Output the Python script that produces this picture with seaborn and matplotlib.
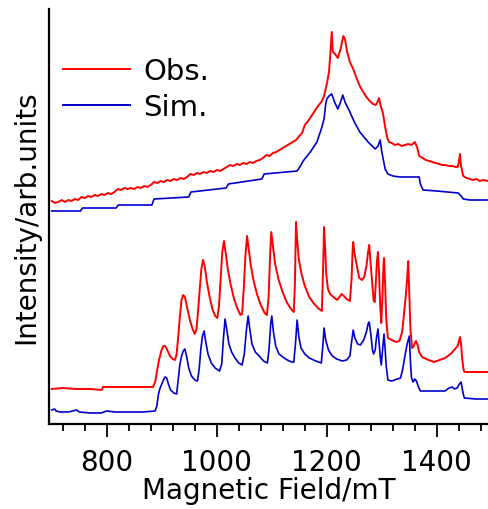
import matplotlib
matplotlib.use("Agg")
import matplotlib.pyplot as plt
import seaborn as sns
import pandas as pd
from matplotlib.ticker import MultipleLocator

# ---- data ----
obs_top_x = [700, 706, 712, 718, 724, 730, 736, 742, 748, 754, 760, 766, 772, 778, 784, 790, 796, 802,
             808, 814, 820, 826, 832, 838, 844, 850, 856, 862, 868, 874, 880, 886, 892, 898, 904, 910,
             916, 922, 928, 934, 940, 946, 952, 958, 964, 970, 976, 982, 988, 994, 1000, 1006, 1012,
             1018, 1024, 1030, 1036, 1042, 1048, 1054, 1060, 1066, 1072, 1078, 1084, 1090, 1096, 1102,
             1108, 1114, 1120, 1126, 1132, 1138, 1144, 1150, 1155, 1160, 1166, 1172, 1178, 1184, 1190,
             1195, 1200, 1204, 1207, 1209, 1211, 1215, 1220, 1225, 1230, 1233, 1237, 1242, 1248, 1254,
             1260, 1266, 1272, 1278, 1284, 1289, 1292, 1295, 1298, 1302, 1306, 1310, 1313, 1318, 1324,
             1330, 1336, 1342, 1348, 1354, 1360, 1364, 1368, 1374, 1380, 1386, 1392, 1398, 1404, 1410,
             1416, 1422, 1428, 1434, 1438, 1440, 1442, 1444, 1448, 1454, 1460, 1466, 1472, 1478, 1484,
             1493]
obs_top_y = [223, 221, 222, 224, 222, 224, 223, 225, 224, 227, 226, 228, 227, 229, 228, 230, 229, 231,
             230, 232, 235, 234, 236, 235, 236, 235, 237, 236, 238, 237, 239, 242, 241, 243, 242, 244,
             243, 245, 244, 246, 245, 247, 250, 249, 251, 250, 252, 251, 253, 252, 254, 253, 255,
             257, 259, 258, 260, 259, 261, 260, 262, 261, 263, 264, 266, 269, 268, 271,
             272, 274, 276, 278, 280, 282, 284, 288, 291, 299, 303, 308, 313, 318, 322,
             328, 340, 352, 375, 392, 372, 370, 366, 375, 388, 385, 372, 362, 355, 346,
             338, 332, 327, 323, 320, 319, 322, 326, 318, 311, 297, 286, 282, 281, 279,
             280, 278, 279, 280, 279, 282, 277, 268, 266, 264, 263, 262, 261, 260, 259,
             259, 258, 258, 257, 257, 262, 270, 258, 248, 246, 245, 244, 245, 243, 244,
             243]

sim_top_x = [700, 752, 756, 817, 821, 882, 886, 949, 953, 1017, 1021, 1082, 1086, 1146, 1152, 1157,
             1170, 1182, 1190, 1195, 1198, 1200, 1204, 1209, 1214, 1220, 1225, 1229, 1233, 1242,
             1250, 1260, 1275, 1288, 1293, 1297, 1300, 1306, 1311, 1320, 1333, 1368, 1370, 1375,
             1400, 1439, 1444, 1448, 1460, 1493]
sim_top_y = [213, 213, 216, 216, 219, 219, 225, 227, 232, 236, 240, 245, 250, 253, 258, 263,
             272, 282, 295, 305, 320, 325, 328, 330, 322, 315, 322, 329, 322, 312,
             302, 292, 282, 275, 278, 284, 272, 255, 250, 248, 247, 247, 240, 234,
             233, 231, 228, 225, 224, 224]

obs_low_x = [700, 720, 745, 770, 791, 793, 830, 860, 884, 888, 891, 895, 899, 903, 906, 910, 915, 920,
             924, 927, 930, 933, 936, 939, 942, 946, 951, 956, 960, 963, 966, 969, 972, 975, 978, 982,
             987, 992, 997, 1001, 1004, 1007, 1010, 1013, 1016, 1020, 1025, 1031, 1037, 1043, 1046,
             1049, 1052, 1055, 1058, 1062, 1067, 1073, 1080, 1087, 1091, 1094, 1097, 1099, 1102, 1106,
             1112, 1119, 1127, 1135, 1140, 1142, 1144, 1146, 1149, 1154, 1160, 1168, 1177, 1186, 1191,
             1193, 1195, 1197, 1199, 1202, 1206, 1212, 1219, 1223, 1227, 1231, 1236, 1242, 1245, 1247,
             1248, 1250, 1254, 1259, 1264, 1268, 1272, 1275, 1277, 1279, 1282, 1285, 1287, 1289, 1291,
             1293, 1295, 1297, 1299, 1301, 1303, 1304, 1306, 1308, 1311, 1318, 1326, 1332, 1337, 1340,
             1343, 1346, 1348, 1350, 1352, 1355, 1358, 1362, 1365, 1368, 1373, 1385, 1395, 1405, 1415,
             1425, 1433, 1438, 1442, 1444, 1446, 1448, 1450, 1470, 1493]
obs_low_y = [35, 36, 35, 35, 34, 37, 37, 37, 37, 42, 52, 64, 73, 78, 78, 74, 68, 65,
             64, 70, 88, 108, 124, 129, 127, 117, 104, 95, 90, 95, 113, 135, 155, 164, 158, 142,
             127, 115, 108, 106, 118, 145, 172, 183, 172, 155, 140, 126, 116, 109, 110,
             135, 168, 188, 175, 158, 143, 130, 119, 111, 109, 125, 170, 192, 178, 160,
             145, 133, 122, 115, 112, 140, 202, 185, 165, 150, 138, 127, 120, 115, 113,
             150, 197, 175, 150, 135, 130, 127, 124, 127, 130, 128, 125, 123, 145, 175,
             182, 172, 160, 146, 144, 147, 158, 172, 179, 165, 145, 124, 122, 140, 162,
             172, 150, 118, 101, 125, 160, 166, 140, 105, 86, 84, 82, 83, 92, 108,
             125, 145, 163, 130, 95, 76, 78, 83, 79, 72, 67, 64, 62, 64, 66,
             70, 75, 78, 87, 80, 66, 56, 52, 52, 52]

sim_low_x = [700, 705, 708, 715, 730, 745, 750, 770, 790, 800, 815, 840, 865, 888, 891, 894, 897, 900,
             903, 906, 909, 912, 916, 922, 927, 930, 933, 936, 939, 942, 945, 949, 954, 960, 965, 968,
             971, 974, 977, 980, 984, 990, 997, 1005, 1009, 1012, 1015, 1018, 1022, 1027, 1033, 1040,
             1046, 1050, 1054, 1057, 1060, 1064, 1070, 1077, 1085, 1092, 1095, 1098, 1100, 1103, 1107,
             1113, 1120, 1128, 1136, 1140, 1143, 1146, 1149, 1153, 1160, 1168, 1180, 1190, 1193, 1195,
             1198, 1203, 1210, 1218, 1228, 1236, 1242, 1245, 1248, 1251, 1256, 1261, 1267, 1272, 1275,
             1277, 1280, 1283, 1285, 1288, 1290, 1293, 1295, 1297, 1299, 1301, 1304, 1306, 1308, 1311,
             1318, 1328, 1334, 1338, 1342, 1346, 1350, 1352, 1354, 1357, 1360, 1363, 1366, 1370, 1385,
             1400, 1415, 1422, 1428, 1432, 1437, 1441, 1444, 1446, 1448, 1450, 1470, 1493]
sim_low_y = [14, 15, 13, 12, 12, 14, 12, 11, 11, 13, 12, 12, 12, 13, 18, 30, 36, 40,
             44, 47, 46, 40, 34, 31, 30, 45, 60, 68, 73, 75, 68, 56, 48, 44, 43, 55,
             75, 88, 93, 82, 70, 61, 56, 53, 60, 85, 105, 95, 80, 72, 66, 61,
             59, 70, 95, 108, 95, 80, 72, 68, 63, 61, 75, 100, 108, 92, 78,
             70, 67, 64, 62, 62, 80, 104, 88, 76, 70, 66, 63, 61, 80, 96,
             84, 74, 68, 65, 63, 64, 68, 82, 94, 86, 80, 79, 84, 92, 100,
             102, 90, 74, 70, 74, 85, 95, 82, 68, 59, 72, 90, 75, 58, 44,
             43, 45, 46, 55, 68, 80, 88, 62, 46, 42, 45, 43, 38, 33, 33,
             33, 33, 36, 37, 35, 36, 40, 42, 36, 30, 26, 25, 25]

legend_labels = ["Obs.", "Sim."]
x_label = "Magnetic Field/mT"
y_label = "Intensity/arb.units"

RED = "#ff0000"
BLUE = "#0000cc"

plt.rcParams['font.family'] = ['DejaVu Sans']
fig = plt.figure(figsize=(4.88, 5.10), dpi=100)
ax = fig.add_axes([49 / 488, 85 / 510, 1 - 49 / 488, 415 / 510])

df_ot = pd.DataFrame({"x": obs_top_x, "y": obs_top_y})
df_st = pd.DataFrame({"x": sim_top_x, "y": sim_top_y})
df_ol = pd.DataFrame({"x": obs_low_x, "y": obs_low_y})
df_sl = pd.DataFrame({"x": sim_low_x, "y": sim_low_y})

sns.lineplot(data=df_ot, x="x", y="y", ax=ax, color=RED, lw=1.4, estimator=None, sort=False, label=legend_labels[0])
sns.lineplot(data=df_st, x="x", y="y", ax=ax, color=BLUE, lw=1.2, estimator=None, sort=False, label=legend_labels[1])
sns.lineplot(data=df_ol, x="x", y="y", ax=ax, color=RED, lw=1.4, estimator=None, sort=False)
sns.lineplot(data=df_sl, x="x", y="y", ax=ax, color=BLUE, lw=1.2, estimator=None, sort=False)

ax.set_xlim(695, 1493)
ax.set_ylim(0, 415)
ax.set_yticks([])
ax.xaxis.set_major_locator(MultipleLocator(200))
ax.xaxis.set_minor_locator(MultipleLocator(40))
ax.tick_params(axis="x", which="major", direction="out", length=9, width=1.3, labelsize=20, pad=8)
ax.tick_params(axis="x", which="minor", direction="out", length=5, width=1.3)
for s in ["top", "right"]:
    ax.spines[s].set_visible(False)
for s in ["left", "bottom"]:
    ax.spines[s].set_linewidth(1.6)
ax.set_xlabel(x_label, fontsize=20, labelpad=0)
ax.set_ylabel(y_label, fontsize=20, labelpad=6)

leg = ax.legend(loc="center left", bbox_to_anchor=(0.032, 0.807), frameon=False, fontsize=21,
                handlelength=2.3, handletextpad=0.45, labelspacing=0.3, borderaxespad=0, borderpad=0)
for line in leg.get_lines():
    line.set_linewidth(1.4)

fig.savefig("out.png", dpi=100)
